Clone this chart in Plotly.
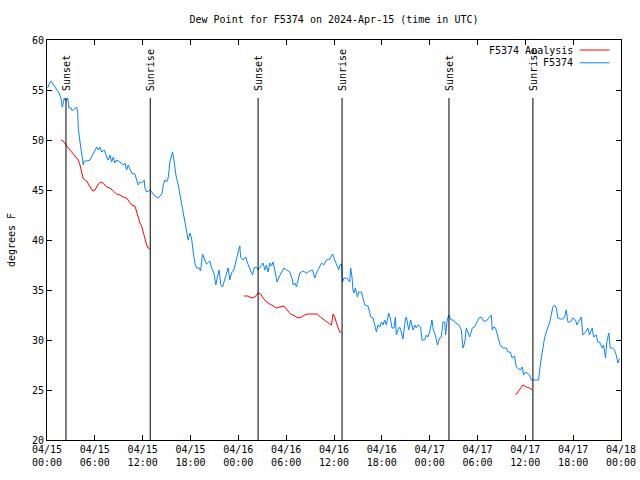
import pandas as pd
import plotly.graph_objects as go

# ---------------- data ----------------
start = pd.Timestamp("2024-04-15 00:00")

obs_hours = [0.09, 0.25, 0.50, 0.75, 1.00, 1.25, 1.50, 1.75, 1.92, 2.17, 2.34, 2.59, 2.76, 3.01, 3.17, 3.42,
             3.72, 3.85, 3.92, 4.14, 4.35, 4.55, 4.67, 4.98, 5.39, 5.60, 6.02, 6.23, 6.43, 6.64, 6.86, 7.18,
             7.48, 7.68, 7.90, 8.11, 8.31, 8.52, 8.74, 9.15, 9.56, 9.78, 9.99, 10.19, 10.62, 11.03, 11.24,
             11.44, 11.66, 11.87, 12.19, 12.28, 12.50, 12.91, 13.12, 13.54, 13.95, 14.16, 14.41, 14.60, 14.79,
             15.00, 15.20, 15.42, 15.63, 15.75, 15.92, 16.17, 16.46, 16.76, 17.01, 17.30, 17.51, 17.71, 17.92,
             18.13, 18.34, 18.55, 18.76, 19.08, 19.26, 19.51, 19.80, 20.01, 20.43, 20.64, 20.93, 21.18, 21.34,
             21.59, 21.81, 22.02, 22.31, 22.52, 22.72, 22.94, 23.15, 23.44, 23.69, 23.98, 24.19, 24.28, 24.60,
             24.94, 25.10, 25.44, 25.78, 25.98, 26.28, 26.48, 26.91, 27.11, 27.32, 27.53, 27.74, 27.95, 28.16,
             28.36, 28.57, 28.86, 29.11, 29.42, 29.71, 30.04, 30.45, 30.79, 30.87, 31.08, 31.30, 31.50, 31.71,
             32.12, 32.55, 32.96, 33.30, 33.59, 33.80, 34.13, 34.43, 34.72, 35.05, 35.47, 35.81, 36.09, 36.38,
             36.60, 36.72, 36.93, 37.06, 37.26, 37.59, 37.97, 38.09, 38.26, 38.38, 38.51, 38.68, 38.94, 39.10,
             39.44, 39.64, 39.85, 40.27, 40.61, 40.90, 41.11, 41.32, 41.52, 41.73, 41.95, 42.15, 42.36, 42.57,
             42.86, 43.11, 43.28, 43.53, 43.70, 43.82, 44.02, 44.24, 44.45, 44.65, 44.96, 45.08, 45.37, 45.62,
             45.91, 46.12, 46.33, 46.54, 46.87, 47.04, 47.37, 47.59, 47.79, 48.00, 48.29, 48.46, 48.71, 48.97,
             49.25, 49.46, 49.67, 49.88, 50.00, 50.16, 50.38, 50.72, 51.00, 51.26, 51.67, 51.97, 52.17, 52.39,
             52.60, 52.80, 53.01, 53.35, 53.64, 53.93, 54.18, 54.48, 54.76, 55.10, 55.43, 55.73, 55.85, 56.01,
             56.26, 56.43, 56.68, 56.85, 57.18, 57.61, 57.81, 58.11, 58.36, 58.65, 58.86, 59.07, 59.37, 59.62,
             59.78, 60.03, 60.32, 60.53, 60.74, 61.03, 61.37, 61.66, 61.87, 62.12, 62.41, 62.70, 63.04, 63.25,
             63.45, 63.67, 63.88, 64.08, 64.38, 64.71, 64.92, 65.13, 65.34, 65.64, 65.97, 66.30, 66.46, 66.80,
             67.01, 67.22, 67.55, 67.84, 68.05, 68.39, 68.56, 68.89, 69.10, 69.31, 69.65, 69.81, 70.06, 70.22,
             70.47, 70.65, 70.97, 71.19, 71.40, 71.61, 71.82]
obs_dewpt = [55.2, 55.6, 55.9, 55.6, 55.2, 55.0, 54.7, 54.2, 53.3, 54.2, 53.9, 54.2, 53.2, 53.2, 52.9, 53.1,
             53.3, 52.8, 51.2, 49.8, 48.3, 47.5, 47.9, 47.9, 48.0, 48.3, 49.0, 49.3, 49.0, 49.3, 48.8, 49.0,
             48.3, 48.0, 48.5, 47.8, 48.3, 47.7, 48.0, 47.8, 47.5, 47.7, 47.0, 47.5, 46.7, 46.6, 46.0,
             45.5, 45.8, 45.7, 46.0, 45.2, 44.8, 45.0, 44.8, 44.4, 44.2, 44.4, 44.6, 45.6, 46.0,
             45.8, 46.2, 47.8, 48.5, 48.8, 48.0, 46.5, 45.5, 44.2, 42.8, 41.5, 40.7, 40.0, 40.7,
             40.2, 38.8, 37.7, 37.2, 37.2, 36.9, 38.6, 38.0, 37.6, 37.9, 37.2, 36.7, 35.5, 36.2,
             37.0, 35.5, 35.3, 36.1, 36.8, 37.2, 36.0, 36.7, 37.0, 38.0, 38.8, 39.4, 38.3, 38.0,
             38.3, 37.8, 37.2, 36.5, 37.2, 37.3, 37.0, 37.5, 37.7, 37.0, 37.5, 36.8, 37.7, 37.4,
             37.8, 37.0, 35.8, 36.3, 36.8, 37.2, 37.0, 36.8, 36.0, 35.5, 35.7, 35.3, 36.0, 36.7,
             36.9, 36.7, 36.9, 37.0, 36.2, 36.7, 37.2, 37.7, 37.5, 38.0, 38.1, 38.6, 38.0, 37.5,
             37.0, 37.5, 37.6, 35.8, 36.2, 36.2, 35.8, 37.2, 36.3, 35.0, 34.7, 35.2, 34.3, 34.8,
             34.8, 34.2, 33.5, 33.4, 32.3, 32.2, 31.5, 30.8, 31.5, 31.3, 31.8, 31.5, 32.0, 31.5,
             32.7, 32.0, 31.2, 31.2, 32.3, 30.5, 31.0, 31.3, 30.8, 30.1, 32.1, 32.3, 31.0, 32.0,
             31.0, 31.5, 31.2, 31.5, 31.3, 30.0, 30.0, 30.5, 30.3, 30.8, 32.0, 31.0, 30.5, 29.5,
             30.2, 30.3, 31.8, 31.8, 30.5, 31.8, 32.5, 32.0, 32.0, 31.7, 31.5, 31.0, 29.2, 29.7,
             31.2, 30.7, 30.3, 31.2, 31.3, 31.8, 32.2, 32.3, 31.9, 31.9, 32.2, 32.5, 31.0, 31.3,
             31.2, 30.7, 29.8, 29.5, 29.2, 29.2, 28.8, 28.8, 28.2, 28.4, 27.3, 27.2, 27.0, 27.3,
             26.5, 26.8, 26.6, 26.5, 26.0, 26.0, 26.0, 26.0, 27.5, 28.7, 30.2, 31.0, 31.7, 32.5,
             33.3, 33.5, 33.2, 32.2, 32.1, 32.1, 32.3, 33.0, 31.8, 31.8, 32.2, 32.0, 31.5, 32.0,
             32.3, 30.5, 30.8, 31.2, 30.5, 31.2, 30.3, 30.5, 29.8, 29.8, 29.2, 29.5, 28.2, 29.8,
             30.7, 29.2, 29.2, 29.0, 28.5, 27.7, 28.1]

ana_hours = [1.75, 2.04, 2.47, 2.88, 3.30, 3.72, 3.92, 4.14, 4.35, 4.55, 4.98, 5.39, 5.73, 6.02, 6.43, 6.77,
             7.06, 7.48, 7.90, 8.31, 8.74, 9.15, 9.56, 9.99, 10.40, 10.62, 11.03, 11.24, 11.44, 11.66, 11.87,
             12.07, 12.28, 12.50, 12.70, 12.91,
             18.0,
             24.69, 25.19, 25.65, 26.07, 26.48, 26.78, 27.11, 27.53, 27.95, 28.36, 28.79, 29.20, 29.70, 30.12,
             30.54, 31.08, 31.50, 31.92, 32.33, 32.75, 33.38, 33.88, 34.30, 34.72, 35.13, 35.47, 35.68, 35.88,
             36.09, 36.31, 36.51, 36.72, 36.93,
             48.0,
             58.78, 59.07, 59.37, 59.70, 60.12, 60.53, 60.87]
ana_dewpt = [50.0, 49.9, 49.4, 49.0, 48.6, 48.1, 48.0, 47.5, 46.8, 46.1, 45.9, 45.3, 44.9, 45.0, 45.6, 45.8,
             45.7, 45.3, 45.2, 44.9, 44.6, 44.5, 44.3, 44.2, 43.8, 43.5, 43.4, 42.8, 42.3, 41.7, 41.4,
             40.7, 40.1, 39.5, 39.2, 39.1,
             None,
             34.4, 34.4, 34.2, 34.3, 34.7, 34.6, 34.2, 33.8, 33.6, 33.4, 33.2, 33.3, 33.4, 33.0,
             32.6, 32.4, 32.2, 32.3, 32.5, 32.6, 32.6, 32.6, 32.3, 32.0, 31.8, 31.6, 31.5, 32.6,
             32.3, 31.7, 31.2, 30.8, 30.8,
             None,
             24.5, 24.8, 25.2, 25.5, 25.3, 25.2, 25.0]

sun_hours = [2.38, 12.95, 26.48, 37.01, 50.42, 60.95]
sun_labels = ["Sunset", "Sunrise", "Sunset", "Sunrise", "Sunset", "Sunrise"]

tick_hours = [0, 6, 12, 18, 24, 30, 36, 42, 48, 54, 60, 66, 72]
tick_text = ["04/15<br>00:00", "04/15<br>06:00", "04/15<br>12:00", "04/15<br>18:00",
             "04/16<br>00:00", "04/16<br>06:00", "04/16<br>12:00", "04/16<br>18:00",
             "04/17<br>00:00", "04/17<br>06:00", "04/17<br>12:00", "04/17<br>18:00",
             "04/18<br>00:00"]
y_ticks = [20, 25, 30, 35, 40, 45, 50, 55, 60]

series_names = ["F5374 Analysis", "F5374"]
series_colors = ["#ff0000", "#0a84ff"]


def to_time(hours):
    return [start + pd.Timedelta(hours=h) for h in hours]


FONT = "DejaVu Sans Mono"

fig = go.Figure()
fig.add_trace(go.Scatter(x=to_time(ana_hours), y=ana_dewpt, mode="lines", name=series_names[0],
                         line=dict(color=series_colors[0], width=1), connectgaps=False))
fig.add_trace(go.Scatter(x=to_time(obs_hours), y=obs_dewpt, mode="lines", name=series_names[1],
                         line=dict(color=series_colors[1], width=1)))

# sunrise / sunset lines and labels
for h, lab in zip(sun_hours, sun_labels):
    t = start + pd.Timedelta(hours=h)
    fig.add_shape(type="line", xref="x", yref="y", x0=t, x1=t, y0=20, y1=54.2,
                  line=dict(color="black", width=1))
    fig.add_annotation(x=t, y=54.7, xref="x", yref="y", text=lab, textangle=-90,
                       showarrow=False, xanchor="center", yanchor="bottom",
                       font=dict(family=FONT, size=10, color="black"))

# gnuplot-style legend (text left, sample right)
leg_y = [0.975, 0.943]
for name, col, ly in zip(series_names, series_colors, leg_y):
    fig.add_annotation(x=0.919, y=ly, xref="paper", yref="paper", text=name, showarrow=False,
                       xanchor="right", yanchor="middle",
                       font=dict(family=FONT, size=10, color="black"))
    fig.add_shape(type="line", xref="paper", yref="paper", x0=0.928, x1=0.980, y0=ly, y1=ly,
                  line=dict(color=col, width=1))

fig.update_layout(
    width=640, height=480,
    margin=dict(l=47, r=18.5, t=40, b=40, autoexpand=False),
    paper_bgcolor="white", plot_bgcolor="white",
    showlegend=False,
    font=dict(family=FONT, size=10, color="black"),
    title=dict(text="Dew Point for F5374 on 2024-Apr-15 (time in UTC)",
               x=0.5, xref="paper", y=1 - 19 / 480, yref="container",
               xanchor="center", yanchor="middle",
               font=dict(family=FONT, size=10, color="black")),
)
fig.update_xaxes(
    type="date", automargin=False,
    range=[start, start + pd.Timedelta(hours=72)],
    tickvals=to_time(tick_hours), ticktext=tick_text,
    ticks="inside", ticklen=5, tickcolor="black", tickwidth=1,
    showline=True, linecolor="black", linewidth=1, mirror="allticks",
    showgrid=False, zeroline=False,
    tickfont=dict(family=FONT, size=10, color="black"),
)
fig.update_yaxes(
    automargin=False,
    range=[20, 60], tickvals=y_ticks,
    ticks="inside", ticklen=5, tickcolor="black", tickwidth=1,
    showline=True, linecolor="black", linewidth=1, mirror="allticks",
    showgrid=False, zeroline=False,
    title=dict(text="degrees F", font=dict(family=FONT, size=10, color="black"), standoff=14),
    tickfont=dict(family=FONT, size=10, color="black"),
)

fig.write_html("out.html")
